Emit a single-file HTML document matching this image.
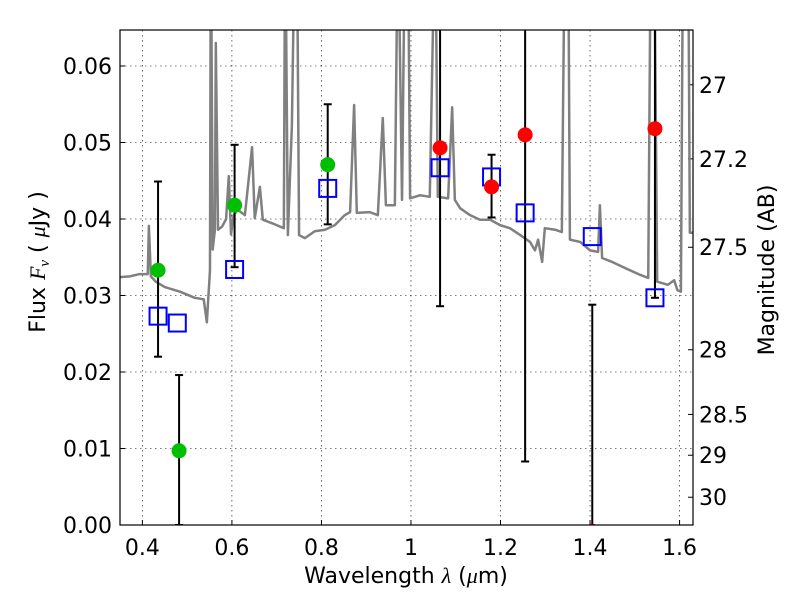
<!DOCTYPE html>
<html><head><meta charset="utf-8"><style>
body{margin:0;background:#fff}
svg{display:block;font-family:"DejaVu Sans","Liberation Sans",sans-serif}
</style></head><body>
<svg id="chart" width="800" height="600" xmlns="http://www.w3.org/2000/svg"></svg>
<script>
const specWave=[0.350,0.372,0.394,0.412,0.4145,0.419,0.430,0.450,0.484,0.517,0.537,0.544,0.551,0.553,0.557,0.562,0.564,0.569,0.578,0.587,0.593,0.598,0.604,0.613,0.629,0.645,0.651,0.6625,0.669,0.696,0.716,0.719,0.725,0.734,0.741,0.745,0.750,0.763,0.785,0.808,0.830,0.852,0.864,0.873,0.879,0.908,0.926,0.937,0.944,0.964,0.971,0.980,0.987,0.993,0.998,1.020,1.042,1.054,1.060,1.083,1.092,1.098,1.110,1.132,1.154,1.177,1.199,1.221,1.244,1.266,1.277,1.284,1.293,1.299,1.322,1.337,1.344,1.351,1.355,1.378,1.400,1.418,1.422,1.427,1.449,1.478,1.512,1.530,1.536,1.543,1.550,1.574,1.588,1.595,1.603,1.608,1.619,1.623,1.63];
const specFlux=[0.0324,0.0325,0.0328,0.0328,0.0391,0.0325,0.0318,0.0311,0.0305,0.0297,0.0295,0.0265,0.0333,0.08,0.036,0.0386,0.063,0.0386,0.039,0.040,0.0456,0.038,0.0405,0.0412,0.0405,0.0494,0.0401,0.0442,0.0399,0.0393,0.0388,0.08,0.0379,0.0523,0.08,0.08,0.0379,0.0375,0.0384,0.0386,0.0392,0.0405,0.0409,0.0549,0.0408,0.0409,0.0405,0.0532,0.0418,0.0418,0.08,0.0425,0.08,0.08,0.0427,0.0431,0.0429,0.08,0.0429,0.0427,0.0546,0.0425,0.0414,0.0405,0.0399,0.0399,0.0392,0.0388,0.0379,0.0370,0.0359,0.0373,0.0344,0.0388,0.0386,0.0383,0.08,0.08,0.0373,0.0370,0.0359,0.0357,0.0418,0.0349,0.0344,0.0336,0.0327,0.0323,0.08,0.08,0.0318,0.0314,0.0320,0.0307,0.0305,0.08,0.08,0.0382,0.0382];
const greenWave=[0.435,0.482,0.606,0.814];
const greenFlux=[0.0333,0.0097,0.0418,0.0471];
const greenLo=[0.0220,0.0,0.0337,0.0393];
const greenHi=[0.0449,0.0196,0.0497,0.0550];
const redWave=[1.065,1.180,1.255,1.405,1.545];
const redFlux=[0.0493,0.0442,0.0510,-0.0008,0.0518];
const redLo=[0.0286,0.0402,0.0083,-0.001,0.0297];
const redHi=[0.08,0.0484,0.08,0.0288,0.08];
const boxWave=[0.435,0.478,0.606,0.814,1.065,1.180,1.255,1.405,1.545];
const boxFlux=[0.0273,0.0264,0.0334,0.0440,0.0467,0.0455,0.0408,0.0377,0.0297];
const xTicks=[0.4,0.6,0.8,1.0,1.2,1.4,1.6];
const xTickLabels=["0.4","0.6","0.8","1","1.2","1.4","1.6"];
const yTicks=[0,0.01,0.02,0.03,0.04,0.05,0.06];
const yTickLabels=["0.00","0.01","0.02","0.03","0.04","0.05","0.06"];
const magTicks=[27,27.2,27.5,28,28.5,29,30];
const magTickLabels=["27","27.2","27.5","28","28.5","29","30"];

const L=120,R=693,T=30,B=525,X0=0.35,X1=1.63,Y0=0,Y1=(B-T)/7650;
const FS=22;
const sx=v=>L+(v-X0)/(X1-X0)*(R-L);
const sy=v=>B-(v-Y0)/(Y1-Y0)*(B-T);
const NS="http://www.w3.org/2000/svg";
const svg=document.getElementById('chart');
function mk(tag,attrs,parent){const e=document.createElementNS(NS,tag);for(const k in attrs)e.setAttribute(k,attrs[k]);(parent||svg).appendChild(e);return e;}
const defs=mk('defs',{});const cp=mk('clipPath',{id:'clip'},defs);mk('rect',{x:L,y:T,width:R-L,height:B-T},cp);

xTicks.forEach((t,i)=>{const g=mk('line',{x1:sx(t),x2:sx(t),y1:T,y2:B,stroke:'#000','stroke-width':0.6,'stroke-dasharray':'1.5,3.5'});


const tk=mk('line',{x1:sx(t),x2:sx(t),y1:B,y2:B-5,stroke:'#000','stroke-width':1});


const tx=mk('text',{x:sx(t),y:B+30,'text-anchor':'middle','font-size':FS});tx.textContent=xTickLabels[i];

});
yTicks.forEach((t,i)=>{if(t>0){const g=mk('line',{x1:L,x2:R,y1:sy(t),y2:sy(t),stroke:'#000','stroke-width':0.6,'stroke-dasharray':'1.5,3.5'});

}
const tk=mk('line',{x1:L,x2:L+5,y1:sy(t),y2:sy(t),stroke:'#000','stroke-width':1});


const tx=mk('text',{x:L-8,y:sy(t)+8,'text-anchor':'end','font-size':FS});tx.textContent=yTickLabels[i];

});
magTicks.forEach((m,i)=>{const f=Math.pow(10,(23.9-m)/2.5);const y=sy(f);
const tk=mk('line',{x1:R,x2:R-5,y1:y,y2:y,stroke:'#000','stroke-width':1});


const tx=mk('text',{x:R+6,y:y+8,'font-size':FS});tx.textContent=magTickLabels[i];

});

const plot=mk('g',{'clip-path':'url(#clip)'});


const sp=mk('polyline',{points:specWave.map((w,i)=>sx(w)+','+sy(specFlux[i])).join(' '),fill:'none',stroke:'#808080','stroke-width':2.5,'stroke-linejoin':'round'},plot);


function errbar(w,lo,hi){const x=sx(w);
const l=mk('line',{x1:x,x2:x,y1:sy(lo),y2:sy(hi),stroke:'#000','stroke-width':2},plot);


[lo,hi].forEach(v=>{const c=mk('line',{x1:x-4,x2:x+4,y1:sy(v),y2:sy(v),stroke:'#000','stroke-width':2},plot);

});}
greenWave.forEach((w,i)=>errbar(w,greenLo[i],greenHi[i]));
redWave.forEach((w,i)=>errbar(w,redLo[i],redHi[i]));
boxWave.forEach((w,i)=>{const b=mk('rect',{x:sx(w)-8.5,y:sy(boxFlux[i])-8.5,width:17,height:17,fill:'none',stroke:'#0000ff','stroke-width':2},plot);

});
greenWave.forEach((w,i)=>{const c=mk('circle',{cx:sx(w),cy:sy(greenFlux[i]),r:7.5,fill:'#00bf00'},plot);

});
redWave.forEach((w,i)=>{const c=mk('circle',{cx:sx(w),cy:sy(redFlux[i]),r:7.5,fill:'#ff0000'},plot);

});

const fr=mk('rect',{x:L,y:T,width:R-L,height:B-T,fill:'none',stroke:'#000','stroke-width':1.2});


const xl=mk('text',{x:406,y:583,'text-anchor':'middle','font-size':FS});
xl.innerHTML='Wavelength  <tspan font-family="Liberation Serif,serif" font-style="italic">λ</tspan> (<tspan font-family="Liberation Serif,serif" font-style="italic">μ</tspan>m)';


const yl=mk('text',{transform:'translate(45,262) rotate(-90)','text-anchor':'middle','font-size':FS});
yl.innerHTML='Flux  <tspan font-family="Liberation Serif,serif" font-style="italic">F</tspan><tspan font-family="Liberation Serif,serif" font-style="italic" font-size="15" dy="4">ν</tspan><tspan dy="-4">  (  </tspan><tspan font-family="Liberation Serif,serif" font-style="italic">μ</tspan>Jy )';


const rl=mk('text',{transform:'translate(774,270) rotate(-90)','text-anchor':'middle','font-size':FS});
rl.textContent='Magnitude (AB)';


</script>
</body></html>
